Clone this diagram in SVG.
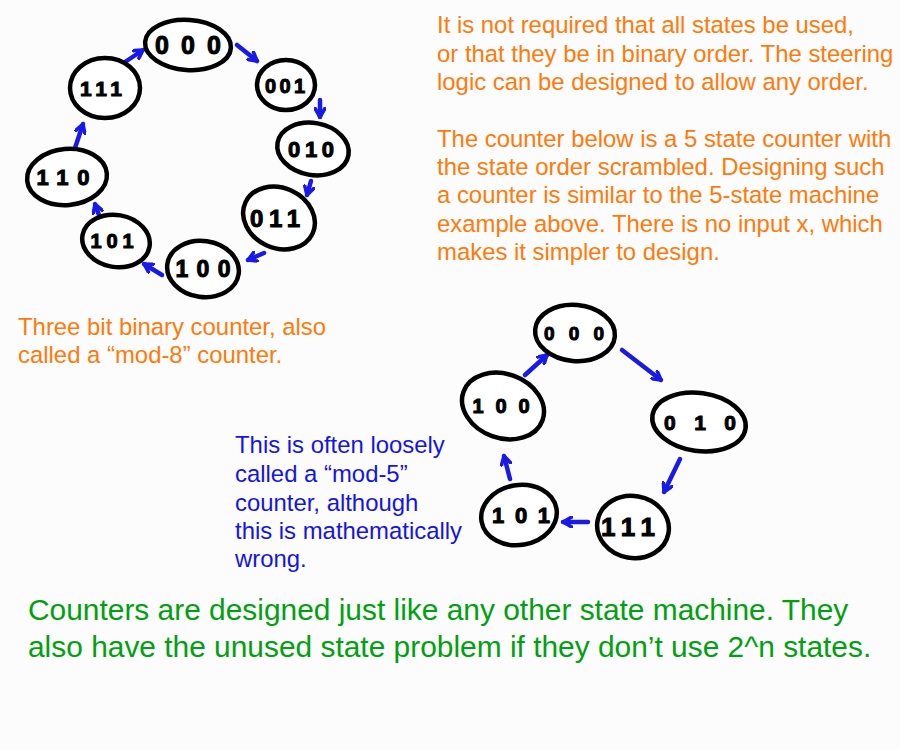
<svg xmlns="http://www.w3.org/2000/svg" width="900" height="750" viewBox="0 0 900 750">
<defs>
<marker id="ah" viewBox="0 0 10 10" refX="8" refY="5" markerWidth="12" markerHeight="12" markerUnits="userSpaceOnUse" orient="auto">
<path d="M1,1 L8,5 L1,9" fill="none" stroke="#1a1ae6" stroke-width="3" stroke-linecap="round" stroke-linejoin="round"/>
</marker>
</defs>
<style>
.st{fill:#fff;stroke:#000;stroke-width:4.5}
.lb{font-family:"Liberation Sans",Arial,sans-serif;font-weight:700;fill:#000;text-anchor:middle;stroke:#000;stroke-width:1}
.ar{fill:none;stroke:#1a1ae6;stroke-width:4.5;stroke-linecap:round;marker-end:url(#ah)}
.t{font-family:"Liberation Sans",Arial,sans-serif;font-size:23.9px}
.or{fill:#ff7a0a}
.bl{fill:#1414e6}
.gr{fill:#00a010;font-size:29.9px}
</style>
<rect width="900" height="750" fill="#fcfcfc"/>

<g id="connectors">
<line class="ar" x1="122" y1="64" x2="143" y2="50"/>
<line class="ar" x1="237" y1="45" x2="257" y2="61"/>
<line class="ar" x1="320" y1="100" x2="320" y2="117"/>
<line class="ar" x1="311" y1="181" x2="307" y2="195"/>
<line class="ar" x1="264" y1="253" x2="248" y2="260"/>
<line class="ar" x1="162" y1="275" x2="144" y2="264"/>
<line class="ar" x1="100" y1="218" x2="95" y2="204"/>
<line class="ar" x1="75" y1="148" x2="83" y2="124"/>
<line class="ar" x1="525" y1="375" x2="547" y2="355"/>
<line class="ar" x1="622" y1="350" x2="661" y2="380"/>
<line class="ar" x1="680" y1="459" x2="664" y2="492"/>
<line class="ar" x1="588" y1="522" x2="563" y2="522"/>
<line class="ar" x1="510" y1="479" x2="504" y2="456"/>
</g>

<g id="t000">
<ellipse class="st" cx="188" cy="45" rx="43" ry="25" transform="rotate(4 188 45)"/>
<text class="lb" x="188" y="54" font-size="25" textLength="66" lengthAdjust="spacing">000</text>
</g>
<g id="t001">
<ellipse class="st" cx="286" cy="85" rx="29" ry="25"/>
<text class="lb" x="285" y="93" font-size="20" textLength="40" lengthAdjust="spacing">001</text>
</g>
<g id="t010">
<ellipse class="st" cx="313" cy="149" rx="36" ry="26" transform="rotate(10 313 149)"/>
<text class="lb" x="311" y="157" font-size="22" textLength="46" lengthAdjust="spacing">010</text>
</g>
<g id="t011">
<ellipse class="st" cx="279" cy="218" rx="37" ry="30" transform="rotate(25 279 218)"/>
<text class="lb" x="275" y="227" font-size="24" textLength="50" lengthAdjust="spacing">011</text>
</g>
<g id="t100">
<ellipse class="st" cx="203" cy="269" rx="36" ry="28" transform="rotate(8 203 269)"/>
<text class="lb" x="203" y="277" font-size="23" textLength="55" lengthAdjust="spacing">100</text>
</g>
<g id="t101">
<ellipse class="st" cx="116" cy="241" rx="34" ry="26" transform="rotate(10 116 241)"/>
<text class="lb" x="112" y="248" font-size="20" textLength="43" lengthAdjust="spacing">101</text>
</g>
<g id="t110">
<ellipse class="st" cx="67" cy="177" rx="40" ry="28" transform="rotate(-5 67 177)"/>
<text class="lb" x="63" y="185" font-size="22" textLength="53" lengthAdjust="spacing">110</text>
</g>
<g id="t111">
<ellipse class="st" cx="105" cy="88" rx="35" ry="30"/>
<text class="lb" x="101" y="96" font-size="21" textLength="42" lengthAdjust="spacing">111</text>
</g>

<g id="b000">
<ellipse class="st" cx="575" cy="333" rx="40" ry="28" transform="rotate(5 575 333)"/>
<text class="lb" x="574" y="340" font-size="19" textLength="60" lengthAdjust="spacing">000</text>
</g>
<g id="b010">
<ellipse class="st" cx="699" cy="422" rx="47" ry="29" transform="rotate(8 699 422)"/>
<text class="lb" x="700" y="430" font-size="21" textLength="72" lengthAdjust="spacing">010</text>
</g>
<g id="b111">
<ellipse class="st" cx="633" cy="527" rx="36" ry="31" transform="rotate(10 633 527)"/>
<text class="lb" x="628" y="536" font-size="26" textLength="54" lengthAdjust="spacing">111</text>
</g>
<g id="b101">
<ellipse class="st" cx="519" cy="515" rx="38" ry="30" transform="rotate(-10 519 515)"/>
<text class="lb" x="521" y="523" font-size="22" textLength="58" lengthAdjust="spacing">101</text>
</g>
<g id="b100">
<ellipse class="st" cx="503" cy="406" rx="42" ry="32" transform="rotate(20 503 406)"/>
<text class="lb" x="501" y="413" font-size="20" textLength="57" lengthAdjust="spacing">100</text>
</g>

<g id="note-top" class="t or">
<text x="437" y="33">It is not required that all states be used,</text>
<text x="437" y="62">or that they be in binary order. The steering</text>
<text x="437" y="90">logic can be designed to allow any order.</text>
<text x="437" y="147">The counter below is a 5 state counter with</text>
<text x="437" y="175">the state order scrambled. Designing such</text>
<text x="437" y="203">a counter is similar to the 5-state machine</text>
<text x="437" y="232">example above. There is no input x, which</text>
<text x="437" y="260">makes it simpler to design.</text>
</g>
<g id="note-left" class="t or">
<text x="18" y="335">Three bit binary counter, also</text>
<text x="18" y="363">called a “mod-8” counter.</text>
</g>
<g id="note-blue" class="t bl">
<text x="235" y="453">This is often loosely</text>
<text x="235" y="482">called a “mod-5”</text>
<text x="235" y="511">counter, although</text>
<text x="235" y="539">this is mathematically</text>
<text x="235" y="567">wrong.</text>
</g>
<g id="note-green" class="t gr">
<text x="28" y="620">Counters are designed just like any other state machine. They</text>
<text x="28" y="657">also have the unused state problem if they don’t use 2^n states.</text>
</g>
</svg>
